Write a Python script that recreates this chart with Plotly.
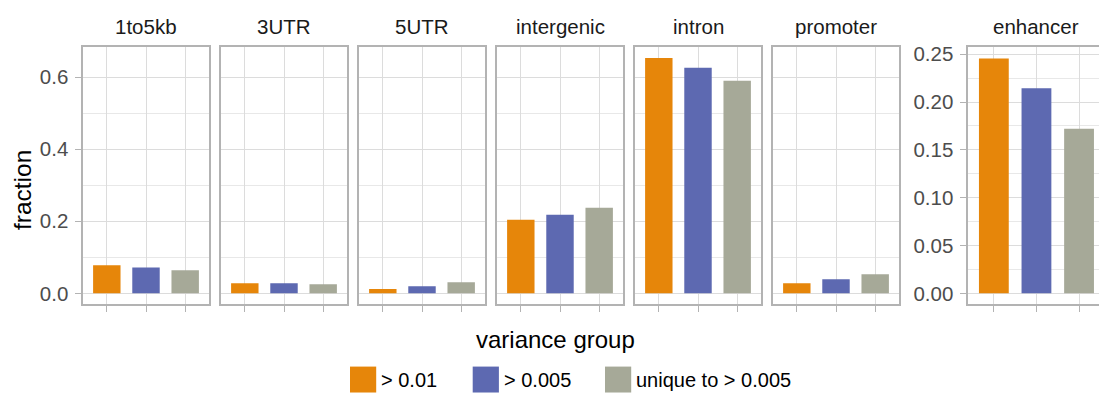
import plotly.graph_objects as go

# ---------------- data ----------------
regions = ["1to5kb", "3UTR", "5UTR", "intergenic", "intron", "promoter", "enhancer"]
groups = ["> 0.01", "> 0.005", "unique to > 0.005"]
colors = ["#E6860A", "#5D69B1", "#A6A998"]

frac_gt001 = [0.078, 0.028, 0.012, 0.204, 0.653, 0.028, 0.2455]
frac_gt0005 = [0.072, 0.028, 0.020, 0.218, 0.626, 0.039, 0.2145]
frac_unique = [0.064, 0.025, 0.031, 0.2375, 0.590, 0.053, 0.172]

shared_ticks = [0.0, 0.2, 0.4, 0.6]
enh_ticks = [0.00, 0.05, 0.10, 0.15, 0.20, 0.25]

# ---------------- layout helpers ----------------
W, H = 1099, 394


def px(x):
    return x / W


def py(y):
    return (H - y) / H


FONT = "Liberation Sans, Arial, Helvetica, sans-serif"
GRID = "#DCDCDC"
MINOR = "#E8E8E8"
BORDER = "#B3B3B3"

panel_left = [83.3, 221.3, 359.3, 497.3, 635.3, 773.3, 968.3]
panel_w = 125.4
top_px, bot_px = 43.0, 303.3

fig = go.Figure()

series = [frac_gt001, frac_gt0005, frac_unique]
for i, reg in enumerate(regions):
    n = "" if i == 0 else str(i + 1)
    vals = [s[i] for s in series]
    fig.add_trace(go.Bar(
        x=groups, y=vals, width=0.7,
        marker=dict(color=colors, line=dict(width=0)),
        xaxis="x" + n, yaxis="y" + n, showlegend=False,
        hovertemplate=reg + "<br>%{x}: %{y:.3f}<extra></extra>",
    ))

annotations = []
for i, reg in enumerate(regions):
    n = "" if i == 0 else str(i + 1)
    left = panel_left[i]
    is_enh = reg == "enhancer"
    if is_enh:
        right = W
        # full panel would extend past the page; clip range accordingly
        unit = 136.3 / 3.2
        xr = [-0.6, -0.6 + (W - left) / unit]
        yr = [-0.0114, 0.258]
        ticks = enh_ticks
        mdt = 0.025
        labels = [f"{t:.2f}" for t in ticks]
    else:
        right = left + panel_w
        xr = [-0.6, 2.6]
        yr = [-0.0302, 0.685]
        ticks = shared_ticks
        mdt = 0.1
        labels = [f"{t:.1f}" for t in ticks]
    show_y = (i == 0) or is_enh

    fig.update_layout(**{
        "xaxis" + n: dict(
            domain=[px(left), px(right)], anchor="y" + n,
            type="category", range=xr, categoryorder="array", categoryarray=groups,
            showticklabels=False, ticks="outside", ticklen=6, tickwidth=1.1,
            tickcolor=BORDER, showgrid=True, gridcolor=GRID, gridwidth=1.1,
            showline=True, linecolor=BORDER, linewidth=1.7, mirror=True,
            zeroline=False, fixedrange=True,
        ),
        "yaxis" + n: dict(
            domain=[py(bot_px), py(top_px)], anchor="x" + n,
            range=yr, tickvals=ticks, ticktext=labels,
            showticklabels=show_y, ticks="outside" if show_y else "",
            ticklen=6, tickwidth=1.1, tickcolor=BORDER,
            tickfont=dict(family=FONT, size=20.5, color="#4D4D4D"),
            ticklabelstandoff=3,
            showgrid=True, gridcolor=GRID, gridwidth=1.1,
            minor=dict(dtick=mdt, tick0=0, showgrid=True, gridcolor=MINOR,
                       gridwidth=0.7, ticks=""),
            showline=True, linecolor=BORDER, linewidth=1.7,
            mirror=False if is_enh else True,
            zeroline=False, fixedrange=True,
        ),
    })
    cx = (left + left + (136.3 if is_enh else panel_w)) / 2
    annotations.append(dict(
        text=reg, x=px(cx), y=py(22.5), xref="paper", yref="paper",
        xanchor="center", yanchor="middle", showarrow=False,
        font=dict(family=FONT, size=20.5, color="#1A1A1A"),
    ))

# axis titles
annotations.append(dict(
    text="fraction", x=px(22.5), y=py(188.5), xref="paper", yref="paper",
    xanchor="center", yanchor="middle", textangle=-90, showarrow=False,
    font=dict(family=FONT, size=24.5, color="#000000"),
))
annotations.append(dict(
    text="variance group", x=px(555), y=py(339), xref="paper", yref="paper",
    xanchor="center", yanchor="middle", showarrow=False,
    font=dict(family=FONT, size=24, color="#000000"),
))

# legend (drawn manually to reproduce the large key squares)
shapes = []
key_left = [350.0, 472.7, 605.0]
key_top, key_size = 366.3, 26.2
for g, c, kl in zip(groups, colors, key_left):
    shapes.append(dict(
        type="rect", xref="paper", yref="paper",
        x0=px(kl), x1=px(kl + key_size), y0=py(key_top + key_size), y1=py(key_top),
        fillcolor=c, line=dict(width=0),
    ))
    annotations.append(dict(
        text=g, x=px(kl + key_size + 3), y=py(379.5), xref="paper", yref="paper",
        xanchor="left", yanchor="middle", showarrow=False,
        font=dict(family=FONT, size=20, color="#000000"),
    ))

fig.update_layout(
    width=W, height=H, margin=dict(l=0, r=0, t=0, b=0),
    paper_bgcolor="white", plot_bgcolor="white",
    barmode="overlay", showlegend=False,
    annotations=annotations, shapes=shapes,
    font=dict(family=FONT),
)

fig.write_html("out.html", config={"displayModeBar": False})
